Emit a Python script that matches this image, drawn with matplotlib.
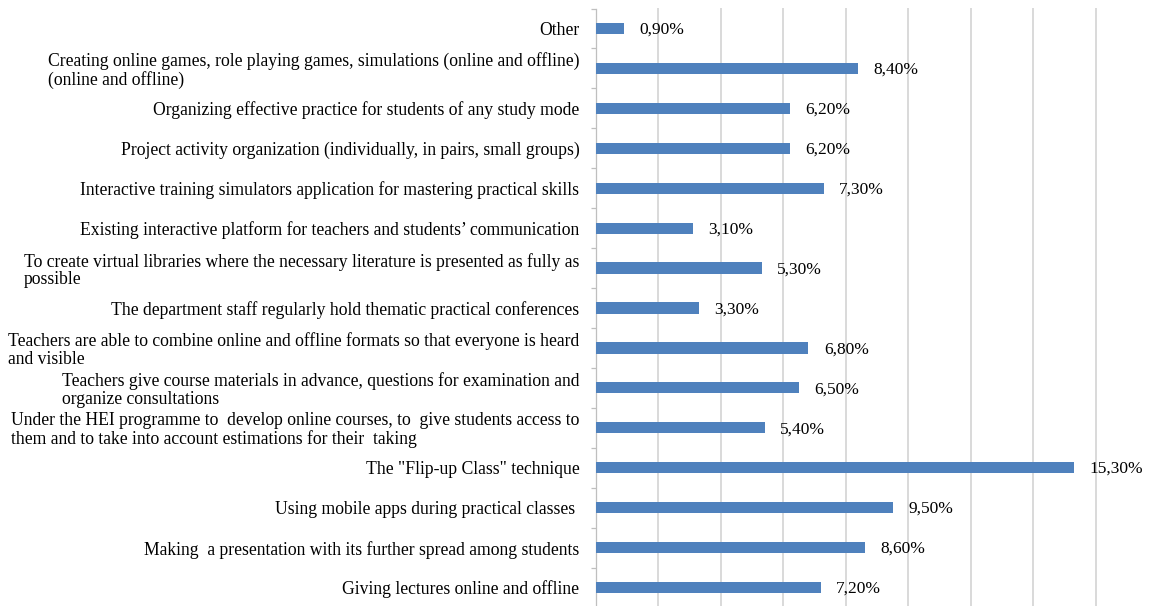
import matplotlib
matplotlib.use("Agg")
import matplotlib.pyplot as plt
import numpy as np

# Data (bottom to top)
categories = [
    "Giving lectures online and offline",
    "Making  a presentation with its further spread among students",
    "Using mobile apps during practical classes ",
    "The \"Flip-up Class\" technique",
    "Under the HEI programme to  develop online courses, to  give students access to\nthem and to take into account estimations for their  taking",
    "Teachers give course materials in advance, questions for examination and\norganize consultations",
    "Teachers are able to combine online and offline formats so that everyone is heard\nand visible",
    "The department staff regularly hold thematic practical conferences",
    "To create virtual libraries where the necessary literature is presented as fully as\npossible",
    "Existing interactive platform for teachers and students\u2019 communication",
    "Interactive training simulators application for mastering practical skills",
    "Project activity organization (individually, in pairs, small groups)",
    "Organizing effective practice for students of any study mode",
    "Creating online games, role playing games, simulations (online and offline)\n(online and offline)",
    "Other",
]
values = [7.2, 8.6, 9.5, 15.3, 5.4, 6.5, 6.8, 3.3, 5.3, 3.1, 7.3, 6.2, 6.2, 8.4, 0.9]
value_labels = ["7,20%", "8,60%", "9,50%", "15,30%", "5,40%", "6,50%", "6,80%", "3,30%",
                "5,30%", "3,10%", "7,30%", "6,20%", "6,20%", "8,40%", "0,90%"]

plt.rcParams['font.family'] = ['Liberation Serif', 'DejaVu Serif']

W, H = 1153, 606
fig = plt.figure(figsize=(W / 100, H / 100), dpi=100)
left_px, right_px = 596, 1097.5
top_px, bottom_px = 8.5, 607.5
ax = fig.add_axes([left_px / W, 1 - bottom_px / H, (right_px - left_px) / W, (bottom_px - top_px) / H])

y = np.arange(len(categories))
ax.barh(y, values, height=0.28, color="#4F81BD", zorder=3)

for yi, v, lab in zip(y, values, value_labels):
    ax.annotate(lab, xy=(v, yi), xytext=(11, -1), textcoords="offset points",
                ha="left", va="center", fontsize=12.5, color="#000000")

ax.set_xlim(0, 16.05)
ax.set_ylim(-0.5, len(categories) - 0.5)
ax.set_xticks([2, 4, 6, 8, 10, 12, 14, 16])
ax.set_xticklabels([])
ax.tick_params(axis="x", length=0)
ax.grid(axis="x", color="#d9d9d9", linewidth=1.4, zorder=0)
for g in ax.get_xgridlines():
    g.set_clip_on(False)

ax.set_yticks(y)
ax.set_yticklabels(categories, fontsize=12.7, ha="right", multialignment="left",
                   linespacing=1.03)
ax.tick_params(axis="y", which="major", length=0, pad=12)
ax.set_yticks(np.arange(-0.5, len(categories), 1.0), minor=True)
ax.tick_params(axis="y", which="minor", length=3.5, width=0.9, color="#bfbfbf")

for s in ["top", "right", "bottom"]:
    ax.spines[s].set_visible(False)
ax.spines["left"].set_color("#bfbfbf")
ax.spines["left"].set_linewidth(0.9)

fig.savefig("out.png", dpi=100)
